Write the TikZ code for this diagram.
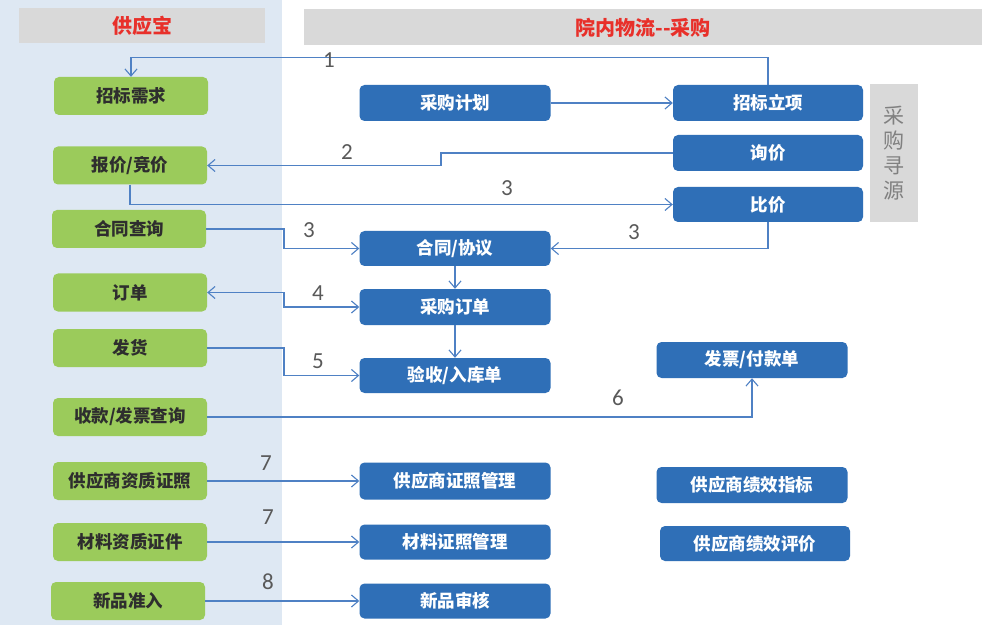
\documentclass[tikz,border=0pt]{standalone}
\usepackage{fontspec}
\newfontfamily\cjk{Noto Sans CJK SC}
\newfontfamily\numf{Carlito}
\usetikzlibrary{arrows.meta}
\definecolor{panel}{HTML}{DEE8F3}
\definecolor{hdr}{HTML}{D9D9D9}
\definecolor{gfill}{HTML}{9BCB5B}
\definecolor{gtext}{HTML}{2E2E2E}
\definecolor{bfill}{HTML}{2F6FB7}
\definecolor{lcol}{HTML}{4F81C4}
\definecolor{numcol}{HTML}{595959}
\definecolor{hred}{HTML}{E8302A}
\definecolor{srctext}{HTML}{808080}
\tikzset{
  gbox/.style={rectangle, rounded corners=5pt, fill=gfill, text=gtext, font=\cjk\bfseries\fontsize{17.5}{17.5}\selectfont, minimum width=154pt, minimum height=38pt, inner sep=0pt},
  bbox/.style={rectangle, rounded corners=5pt, fill=bfill, text=white, font=\cjk\bfseries\fontsize{17.5}{17.5}\selectfont, minimum width=191pt, minimum height=36pt, inner sep=0pt},
  hdrtext/.style={text=hred, font=\cjk\bfseries\fontsize{20}{20}\selectfont, inner sep=0pt},
  conn/.style={draw=lcol, line width=1.1pt, -{Straight Barb[length=7pt,width=12pt]}},
  conntwo/.style={draw=lcol, line width=1.1pt, {Straight Barb[length=7pt,width=12pt]}-{Straight Barb[length=7pt,width=12pt]}},
  num/.style={text=numcol, font=\numf\fontsize{23}{23}\selectfont, inner sep=0pt}
}
\begin{document}
\begin{tikzpicture}[x=1pt,y=-1pt]
\useasboundingbox (0,0) rectangle (982,628);
\fill[white] (0,0) rectangle (982,628);
\fill[panel] (0,0) rectangle (282,625);
% headers
\fill[hdr] (19,8) rectangle (265,43);
\fill[hdr] (304,9) rectangle (982,45);
\node[hdrtext] (h1) at (142,26) {供应宝};
\node[hdrtext] (h2) at (643,28) {院内物流-{}-采购};
% green nodes
\node[gbox] (n1) at (131,96) {招标需求};
\node[gbox] (n2) at (130,165.5) {报价/竞价};
\node[gbox] (n3) at (129,229) {合同查询};
\node[gbox] (n4) at (130,292.5) {订单};
\node[gbox] (n5) at (130,348) {发货};
\node[gbox] (n6) at (130,417) {收款/发票查询};
\node[gbox] (n7) at (130,481) {供应商资质证照};
\node[gbox] (n8) at (130,542) {材料资质证件};
\node[gbox] (n9) at (128,601) {新品准入};
% blue nodes
\node[bbox] (p1) at (455,103) {采购计划};
\node[bbox, minimum width=190pt] (p2) at (768,103) {招标立项};
\node[bbox, minimum width=190pt] (p3) at (768,153) {询价};
\node[bbox, minimum width=190pt, minimum height=35pt] (p4) at (768,204.5) {比价};
\node[rectangle, fill=hdr, minimum width=48pt, minimum height=138pt, inner sep=0pt, text=srctext, align=center, font=\cjk\fontsize{21}{25}\selectfont] (src) at (894,153) {采\\购\\寻\\源};
\node[bbox, minimum height=35pt] (p5) at (455,248.5) {合同/协议};
\node[bbox] (p6) at (455,307) {采购订单};
\node[bbox, minimum height=35pt] (p7) at (455,375.5) {验收/入库单};
\node[bbox] (p8) at (752,360) {发票/付款单};
\node[bbox, minimum height=37pt] (p9) at (455,481) {供应商证照管理};
\node[bbox, minimum height=35pt] (p10) at (455,542) {材料证照管理};
\node[bbox, minimum height=35pt] (p11) at (455,601) {新品审核};
\node[bbox] (p12) at (752,485) {供应商绩效指标};
\node[bbox, minimum width=190pt, minimum height=35pt] (p13) at (755,543.5) {供应商绩效评价};
% connectors
\coordinate (c3) at (284,0);
\coordinate (c2) at (441,165.5);
\draw[conn] (p2.north) -- ++(0,-27) -| (n1.north);
\draw[conn] (p1) -- (p2);
\draw[conn] (p3.west) -| (c2) -- (n2.east);
\draw[conn] (n2.south) |- (p4.west);
\draw[conn] (n3.east) -- (n3.east -| c3) |- (p5.west);
\draw[conn] (p4.south) |- (p5.east);
\draw[conn] (p5) -- (p6);
\draw[conntwo] (n4.east) -- (n4.east -| c3) |- (p6.west);
\draw[conn] (p6) -- (p7);
\draw[conn] (n5.east) -- (n5.east -| c3) |- (p7.west);
\draw[conn] (n6.east) -| (p8.south);
\draw[conn] (n7.east) -- (p9.west);
\draw[conn] (n8.east) -- (p10.west);
\draw[conn] (n9.east) -- (p11.west);
% labels
\node[num] (l1) at (329,60) {1};
\node[num] (l2) at (347,152) {2};
\node[num] (l3a) at (507,188) {3};
\node[num] (l3b) at (309,230) {3};
\node[num] (l3c) at (634,232) {3};
\node[num] (l4) at (318,293) {4};
\node[num] (l5) at (318,361) {5};
\node[num] (l6) at (618,398) {6};
\node[num] (l7a) at (266,463) {7};
\node[num] (l7b) at (268,517) {7};
\node[num] (l8) at (268,582) {8};
\end{tikzpicture}
\end{document}
